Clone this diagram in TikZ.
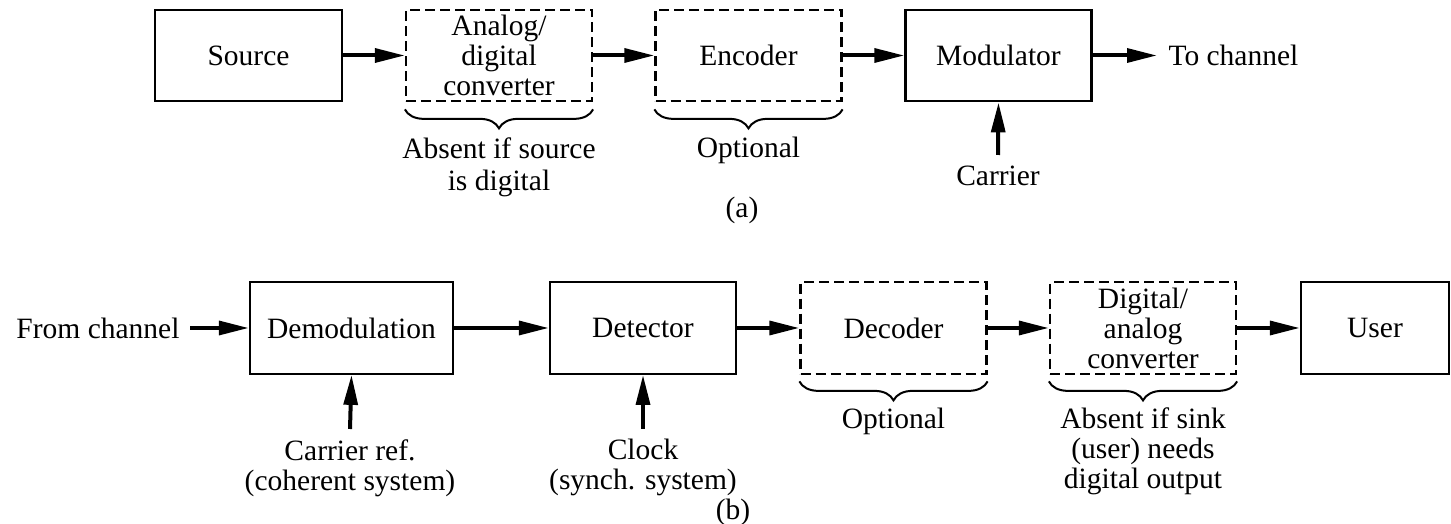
\documentclass[tikz,border=0pt]{standalone}
\usepackage{fontspec}
\setmainfont{Liberation Serif}
\usetikzlibrary{arrows.meta,decorations.pathreplacing}
\begin{document}
\begin{tikzpicture}[x=0.4pt,y=-0.4pt,
  txt/.style={font=\fontsize{11.8}{12}\selectfont, align=center},
  blk/.style={txt, draw, line width=0.9pt, minimum width=74.4pt, minimum height=36.6pt, inner sep=0pt},
  optblk/.style={blk, dash pattern=on 4pt off 2pt},
  arr/.style={line width=1.6pt, -{Triangle[length=12pt,width=5.5pt]}},
  brc/.style={line width=0.8pt, decorate, decoration={brace,mirror,amplitude=7.6pt}},
  lbl/.style={txt, inner xsep=0pt, inner ysep=4pt, anchor=north}]
\useasboundingbox (0,0) rectangle (1451,524);
% (a) transmitter
\node[blk, minimum width=74.8pt] (src) at (248.5,55.5) {Source};
\node[optblk] (ad) at (499,55.5) {Analog/\\digital\\converter};
\node[optblk] (enc) at (748.5,55.5) {Encoder};
\node[blk] (mod) at (998.5,55.5) {Modulator};
\node[txt, anchor=west, inner sep=4.4pt] (toch) at (1157,55.5) {To channel};
\draw[arr] (src) -- (ad);
\draw[arr] (ad) -- (enc);
\draw[arr] (enc) -- (mod);
\draw[arr] (mod) -- (toch);
\node[lbl] (car) at (998,155) {Carrier};
\draw[arr] (car.north) -- (mod.south);
\draw[brc] ([yshift=-2.8pt]ad.south west) -- ([yshift=-2.8pt]ad.south east);
\draw[brc] ([yshift=-2.8pt]enc.south west) -- ([yshift=-2.8pt]enc.south east);
\node[lbl, font=\fontsize{11.8}{12.8}\selectfont] (adlbl) at (499,127) {Absent if source\\is digital};
\node[lbl] (enclbl) at (748.5,127) {Optional};
\node[txt] (capa) at (742,210) {(a)};
% (b) receiver
\node[txt, anchor=east, inner sep=4pt] (fromch) at (190,328) {From channel};
\node[blk, minimum width=81.2pt] (dem) at (351.5,328) {Demodulation};
\node[blk] (det) at (643,328) {Detector};
\node[optblk] (dec) at (893.5,328) {Decoder};
\node[optblk] (da) at (1143,328) {Digital/\\analog\\converter};
\node[blk, minimum width=59.2pt] (usr) at (1375,328) {User};
\draw[arr] (fromch) -- (dem);
\draw[arr] (dem) -- (det);
\draw[arr] (det) -- (dec);
\draw[arr] (dec) -- (da);
\draw[arr] (da) -- (usr);
\node[lbl] (cref) at (350,429) {Carrier ref.\\(coherent system)};
\node[lbl] (clk) at (643,429) {Clock\\(synch. system)};
\draw[arr] (cref.north) -- (dem.south);
\draw[arr] (clk.north) -- (det.south);
\draw[brc] ([yshift=-2.6pt]dec.south west) -- ([yshift=-2.6pt]dec.south east);
\draw[brc] ([yshift=-2.6pt]da.south west) -- ([yshift=-2.6pt]da.south east);
\node[lbl, inner ysep=3.4pt] (declbl) at (893.5,399) {Optional};
\node[lbl, inner ysep=3.4pt] (dalbl) at (1143,399) {Absent if sink\\(user) needs\\digital output};
\node[txt] (capb) at (733,512) {(b)};
\end{tikzpicture}
\end{document}
